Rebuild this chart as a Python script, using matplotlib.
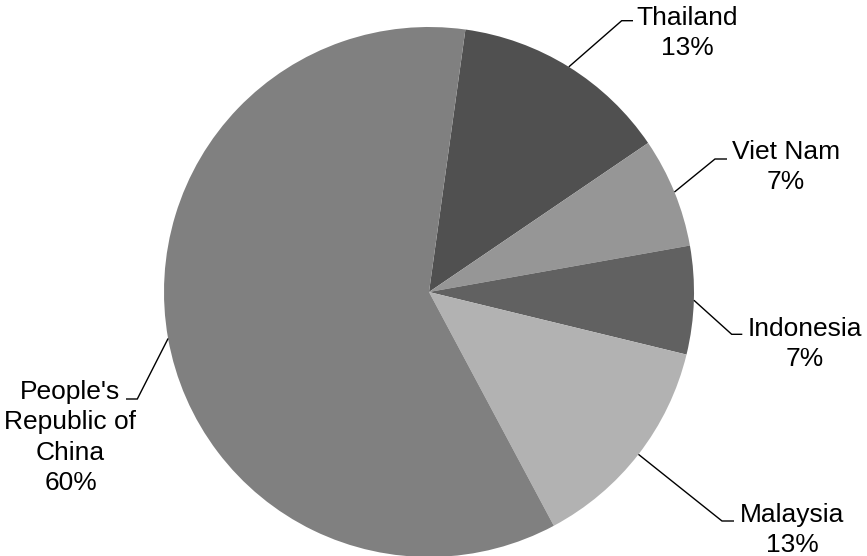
import numpy as np
import matplotlib.pyplot as plt

plt.rcParams['font.family'] = ['Liberation Sans', 'DejaVu Sans']

# data
countries = ["Thailand", "Viet Nam", "Indonesia", "Malaysia", "People's\nRepublic of\nChina"]
shares = [13.3, 6.7, 6.6, 13.4, 60.0]
pct_labels = ["13%", "7%", "7%", "13%", "60%"]
colors = ["#505050", "#969696", "#616161", "#b2b2b2", "#808080"]

# layout in pixel units (image y measured from top)
W, H = 867, 556
cx, cy, R = 429, 292, 265
start = 82.1  # degrees ccw from x axis where first wedge starts
# centre x and baseline of the last text line
text_pos = [(687, 55), (786, 189), (805, 366), (792, 552), (70.5, 490)]
elbow = [(621.7, 20.7), (715, 159), (731.7, 334.3), (722, 521), (137.3, 399)]
line_end = [(633, 20.7), (727, 159), (742.3, 334.3), (734, 521), (126, 399)]

fig = plt.figure(figsize=(W / 100, H / 100), dpi=100)
ax = fig.add_axes([0, 0, 1, 1])

wedges, _ = ax.pie(shares, colors=colors, startangle=start, counterclock=False,
                   center=(cx, H - cy), radius=R,
                   wedgeprops=dict(linewidth=0, edgecolor='none'))
ax.set_xlim(0, W)
ax.set_ylim(0, H)
ax.set_aspect('equal')
ax.axis('off')

for i, w in enumerate(wedges):
    mid = np.deg2rad((w.theta1 + w.theta2) / 2)
    ax0 = cx + R * np.cos(mid)
    ay0 = (H - cy) + R * np.sin(mid)
    ex, ey = elbow[i]
    lx, ly = line_end[i]
    ax.plot([ax0, ex, lx], [ay0, H - ey, H - ly], color='black', lw=1.0,
            solid_capstyle='butt', solid_joinstyle='miter')
    tx, ty = text_pos[i]
    ax.text(tx, H - ty, countries[i] + "\n" + pct_labels[i], ha='center', va='baseline',
            multialignment='center', fontsize=19, linespacing=1.33, color='black')

fig.savefig("out.png", dpi=100)
